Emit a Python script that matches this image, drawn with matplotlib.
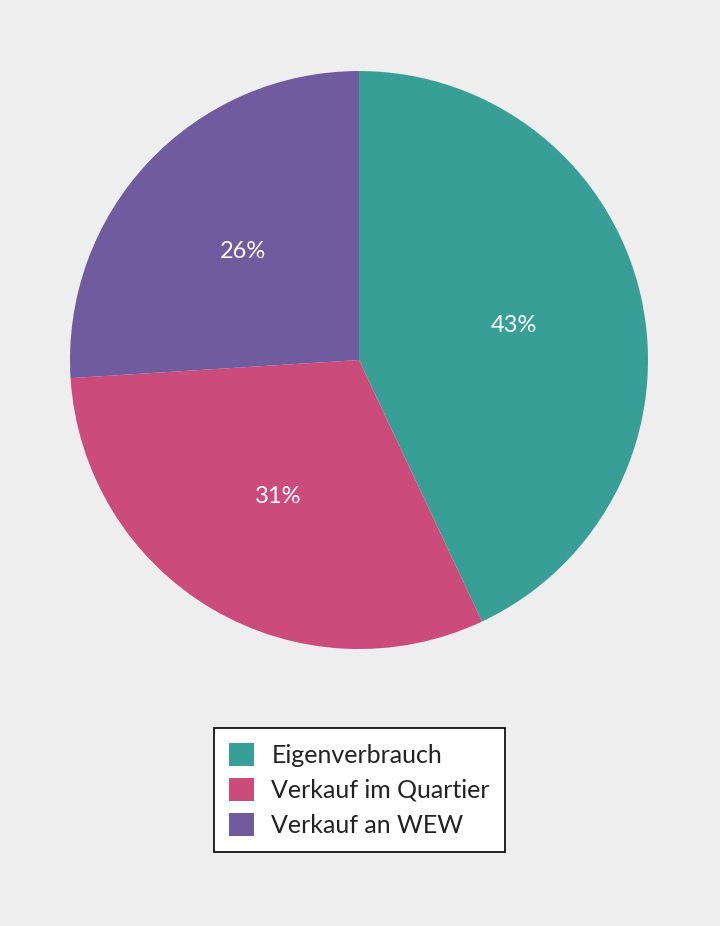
import matplotlib
matplotlib.use('Agg')
import matplotlib.pyplot as plt
from matplotlib.patches import Patch

labels = ['Eigenverbrauch', 'Verkauf im Quartier', 'Verkauf an WEW']
values = [43, 31, 26]
colors = ['#389f96', '#cb4c7b', '#715b9f']

plt.rcParams['font.family'] = ['Lato', 'DejaVu Sans']
fig = plt.figure(figsize=(7.2, 9.26), dpi=100, facecolor='#eeeeee')
ax = fig.add_axes([0.4986 - 0.4014, 0.6112 - 0.3121, 0.8028, 0.6242])
ax.set_facecolor('#eeeeee')
wedges, texts, autotexts = ax.pie(values, colors=colors, startangle=90, counterclock=False,
                                  autopct='%d%%', pctdistance=0.55,
                                  textprops={'color': 'white', 'fontsize': 17})
ax.set_xlim(-1, 1)
ax.set_ylim(-1, 1)
ax.set_aspect('equal')

handles = [Patch(facecolor=c, label=l) for c, l in zip(colors, labels)]
leg = fig.legend(handles=handles, loc='center', bbox_to_anchor=(0.499, 0.1468),
                 fontsize=18, frameon=True, fancybox=False, edgecolor='black',
                 facecolor='white', framealpha=1, handlelength=1.0, handleheight=1.0,
                 labelspacing=0.45, borderpad=0.6, handletextpad=0.7)
leg.get_frame().set_linewidth(1.2)
for t in leg.get_texts():
    t.set_color('#222222')

fig.savefig('out.png', dpi=100, facecolor=fig.get_facecolor())
